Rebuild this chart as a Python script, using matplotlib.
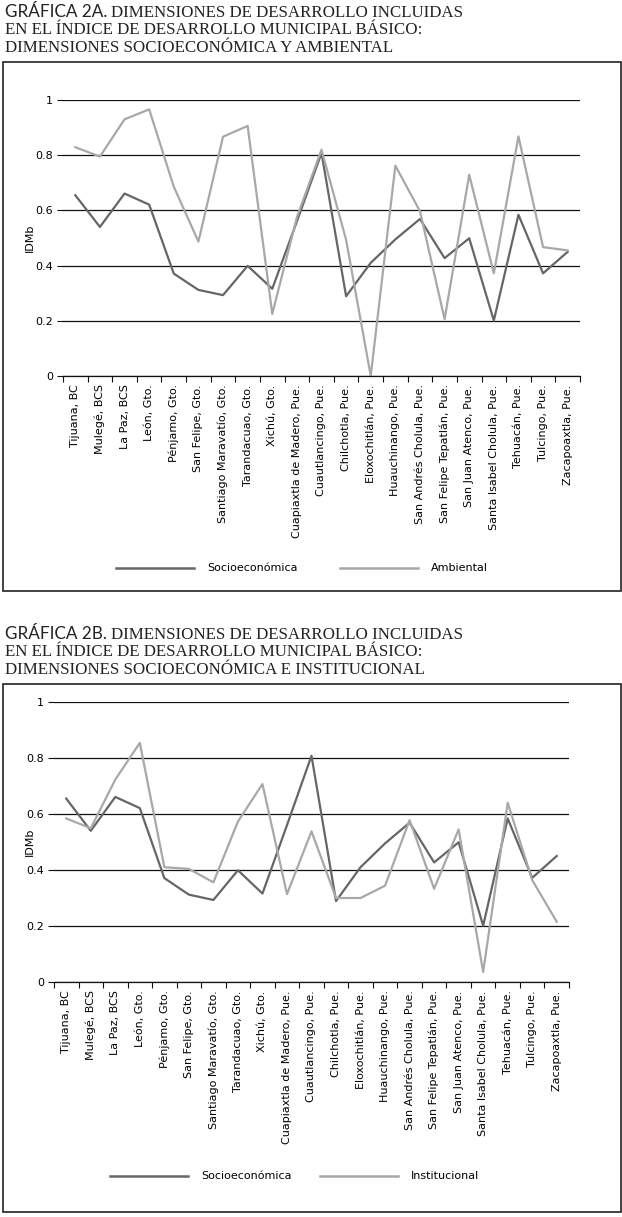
import matplotlib
matplotlib.use("Agg")
import matplotlib.pyplot as plt
from matplotlib.patches import Rectangle

# municipios
municipios = ["Tijuana, BC", "Mulegé, BCS", "La Paz, BCS", "León, Gto.", "Pénjamo, Gto.",
              "San Felipe, Gto.", "Santiago Maravatío, Gto.", "Tarandacuao, Gto.", "Xichú, Gto.",
              "Cuapiaxtla de Madero, Pue.", "Cuautlancingo, Pue.", "Chilchotla, Pue.",
              "Eloxochitlán, Pue.", "Huauchinango, Pue.", "San Andrés Cholula, Pue.",
              "San Felipe Tepatlán, Pue.", "San Juan Atenco, Pue.", "Santa Isabel Cholula, Pue.",
              "Tehuacán, Pue.", "Tulcingo, Pue.", "Zacapoaxtla, Pue."]

socioeconomica = [0.655, 0.540, 0.661, 0.621, 0.371, 0.312, 0.293, 0.399, 0.316, 0.560,
                  0.808, 0.289, 0.410, 0.495, 0.569, 0.427, 0.499, 0.201, 0.584, 0.372, 0.450]

ambiental = [0.829, 0.795, 0.930, 0.966, 0.686, 0.487, 0.867, 0.906, 0.225, 0.575,
             0.820, 0.493, 0.000, 0.762, 0.597, 0.206, 0.729, 0.372, 0.868, 0.467, 0.455]

institucional = [0.584, 0.549, 0.723, 0.854, 0.410, 0.404, 0.356, 0.573, 0.707, 0.314,
                 0.538, 0.300, 0.300, 0.344, 0.578, 0.333, 0.545, 0.036, 0.640, 0.364, 0.215]

titulo_a = ["DIMENSIONES DE DESARROLLO INCLUIDAS",
            "EN EL ÍNDICE DE DESARROLLO MUNICIPAL BÁSICO:",
            "DIMENSIONES SOCIOECONÓMICA Y AMBIENTAL"]
titulo_b = ["DIMENSIONES DE DESARROLLO INCLUIDAS",
            "EN EL ÍNDICE DE DESARROLLO MUNICIPAL BÁSICO:",
            "DIMENSIONES SOCIOECONÓMICA E INSTITUCIONAL"]

W, H = 622, 1217
OSCURO = "#666666"
CLARO = "#a8a8a8"
TINTA = "#222222"
SANS = "DejaVu Sans"
SERIF = "Liberation Serif"
FS = 8

fig = plt.figure(figsize=(W / 100, H / 100), dpi=100)
renderer = fig.canvas.get_renderer()


def px(x, y):
    # pixel coords (top-left origin) -> figure fraction
    return x / W, 1 - y / H


def titulo(y0, etiqueta, lineas):
    t = fig.text(*px(5, y0), etiqueta, family="Lato", fontsize=12.3,
                 va="baseline", ha="left", color=TINTA)
    x1 = t.get_window_extent(renderer).x1
    fig.text(x1 / W + 4 / W, 1 - y0 / H, lineas[0], family=SERIF, fontsize=12.2,
             va="baseline", ha="left", color=TINTA)
    for k, l in enumerate(lineas[1:]):
        fig.text(*px(5, y0 + 17.5 * (k + 1)), l, family=SERIF, fontsize=12.2,
                 va="baseline", ha="left", color=TINTA)


def panel(box_top, box_bot, left, right, y1, y0, serie2, nombre2, ley_y, ley_x):
    fig.patches.append(Rectangle(px(3, box_bot), 618 / W, (box_bot - box_top) / H,
                                 transform=fig.transFigure, fill=False,
                                 edgecolor=TINTA, linewidth=1.2))
    l, b = px(left, y0)
    ax = fig.add_axes([l, b, (right - left) / W, (y0 - y1) / H])
    x = list(range(len(municipios)))
    ax.plot(x, socioeconomica, color=OSCURO, linewidth=1.6)
    ax.plot(x, serie2, color=CLARO, linewidth=1.6)
    ax.set_xlim(-0.5, len(municipios) - 0.5)
    ax.set_ylim(0, 1)
    ax.set_yticks([0, 0.2, 0.4, 0.6, 0.8, 1])
    ax.set_yticklabels(["0", "0.2", "0.4", "0.6", "0.8", "1"], family=SANS, fontsize=FS)
    ax.grid(axis="y", color="#111111", linewidth=0.9)
    ax.set_axisbelow(True)
    ax.set_xticks([i - 0.5 for i in range(len(municipios) + 1)])
    ax.set_xticklabels([])
    ax.set_xticks(x, minor=True)
    ax.set_xticklabels(municipios, minor=True, rotation=90, family=SANS, fontsize=FS,
                       va="top", ha="center")
    ax.tick_params(axis="x", which="minor", length=0, pad=6)
    ax.tick_params(axis="x", which="major", length=4, width=0.8, color="#111111")
    ax.tick_params(axis="y", length=4, width=0.8, color="#111111", pad=3)
    for s in ["top", "right", "left"]:
        ax.spines[s].set_visible(False)
    ax.spines["bottom"].set_color("#111111")
    ax.spines["bottom"].set_linewidth(0.9)
    ax.set_ylabel("IDMb", family=SANS, fontsize=FS)
    ax.yaxis.set_label_coords(-(left - 35) / (right - left), 0.5)
    # leyenda
    for x0, col, txt in [(ley_x[0], OSCURO, "Socioeconómica"), (ley_x[1], CLARO, nombre2)]:
        fig.lines.append(plt.Line2D([x0 / W, (x0 + 78) / W], [1 - ley_y / H] * 2, color=col,
                                    linewidth=1.8, transform=fig.transFigure))
        fig.text(*px(x0 + 91, ley_y), txt, family=SANS, fontsize=FS, va="center", ha="left")
    return ax


panel(62, 591, 63, 580, 100, 376, ambiental, "Ambiental", 568, (116, 340))
panel(684, 1212, 54, 569, 702, 982, institucional, "Institucional", 1176, (110, 320))

titulo(17, "GRÁFICA 2A.", titulo_a)
titulo(639, "GRÁFICA 2B.", titulo_b)

fig.savefig("out.png", dpi=100)
